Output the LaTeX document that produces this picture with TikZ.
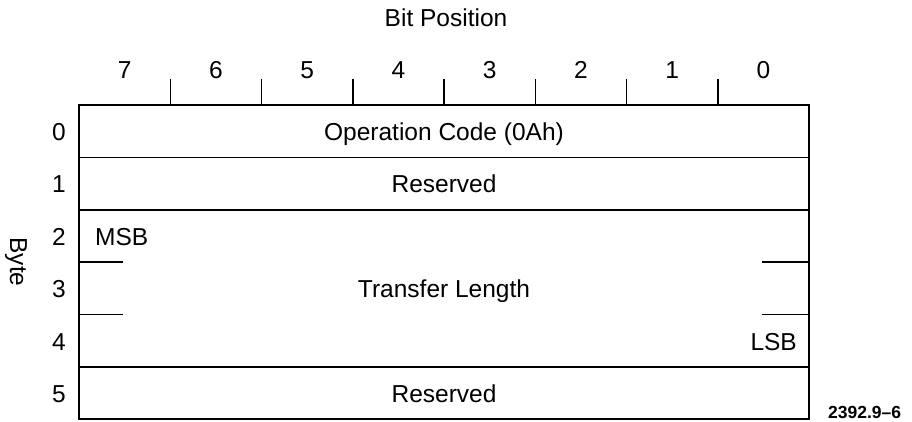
\documentclass[tikz,border=0pt]{standalone}
\usepackage{fontspec}
\setmainfont{Liberation Sans}
\begin{document}
\begin{tikzpicture}[x=1pt,y=-1pt,
  rule/.style={line width=1.5pt,black},
  lbl/.style={inner sep=0pt,anchor=base,font=\fontsize{24.5}{29}\selectfont},
  tag/.style={inner sep=0pt,anchor=base west,font=\bfseries\fontsize{17.5}{21}\selectfont}]
\useasboundingbox (0,0) rectangle (912,421);

% frame geometry: left/right edges and row boundaries
\def\xl{79}\def\xr{809}
% outer frame
\draw[rule] (\xl,105) rectangle (\xr,419);
% full-width row separators
\foreach \y in {157.5,210,367} \draw[rule] (\xl,\y) -- (\xr,\y);
% partial separators inside the multi-byte field
\foreach \y in {262,314.5} {
  \draw[rule] (\xl,\y) -- (123,\y);
  \draw[rule] (762,\y) -- (\xr,\y);
}
% bit ticks above the frame
\foreach \i in {1,...,7} \draw[rule] ({\xl+\i*91.25},79) -- ({\xl+\i*91.25},105);

% headings
\node[lbl] (bitpos) at (446,26.5) {Bit Position};
\foreach \b [count=\i from 0] in {7,6,5,4,3,2,1,0}
  \node[lbl] (bit\b) at ({\xl+45.6+\i*91.25},78) {\b};
\foreach \r [count=\i from 0] in {0,...,5}
  \node[lbl] (byte\r) at (59,{140+\i*52.5}) {\r};
\node[inner sep=0pt,rotate=-90,font=\fontsize{24.5}{29}\selectfont] (bytelbl) at (16,262) {Byte};

% field contents
\node[lbl] (opcode) at (444,140) {Operation Code (0Ah)};
\node[lbl] (res1) at (444,192.5) {Reserved};
\node[lbl] (xfer) at (444,297.5) {Transfer Length};
\node[lbl,anchor=base west] (msb) at (95,245) {MSB};
\node[lbl,anchor=base east] (lsb) at (797,350) {LSB};
\node[lbl] (res5) at (444,402.5) {Reserved};

% figure number
\node[tag] (fignum) at (828,418) {2392.9–6};
\end{tikzpicture}
\end{document}
